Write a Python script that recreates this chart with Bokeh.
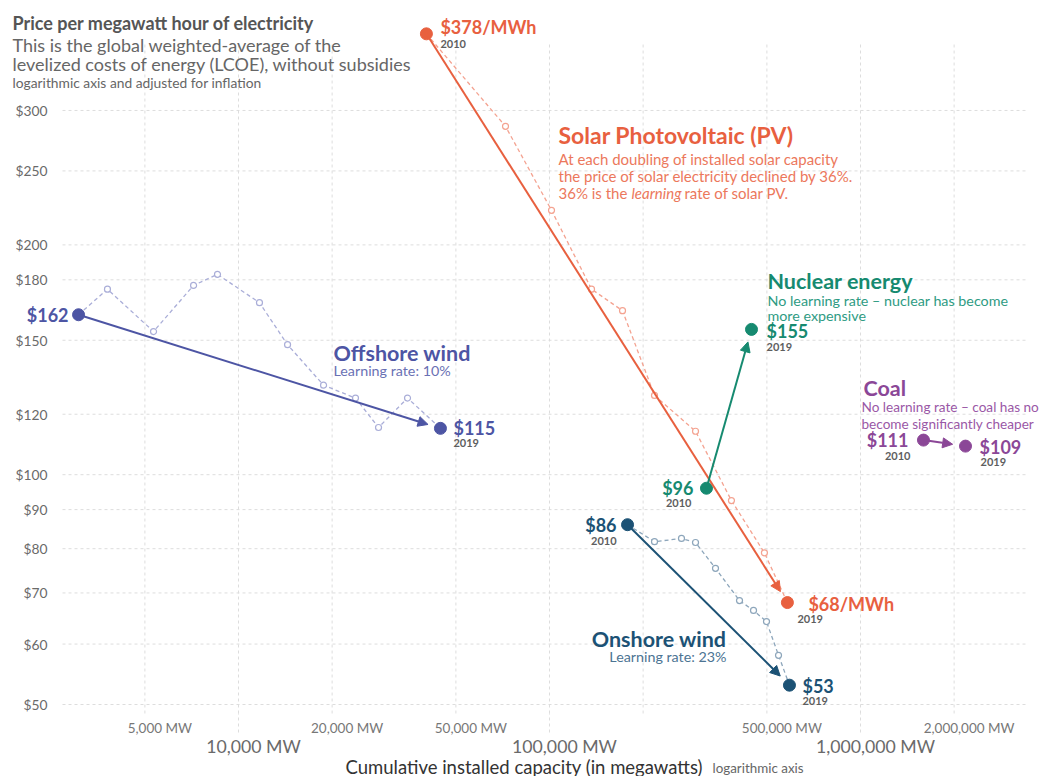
import math
from bokeh.plotting import figure
from bokeh.models import Range1d, Label, Arrow, NormalHead
from bokeh.embed import file_html
from bokeh.resources import INLINE

# ---------------- data ----------------
solar_mw = [40200, 72200, 101500, 136500, 171700, 217600, 294800, 384600, 491000, 582000]
solar_price = [378, 286, 222, 175, 164, 127, 114, 92.5, 79, 68]

offshore_mw = [3060, 3790, 5330, 7170, 8560, 11680, 14380, 18770, 23780, 28200, 34950, 44600]
offshore_price = [162, 175, 154, 177, 183, 168, 148, 131, 126, 115.3, 126, 115]

onshore_mw = [178200, 217600, 265700, 294800, 341800, 408300, 452900, 498600, 545000, 591000]
onshore_price = [86, 81.7, 82.5, 81.5, 75.4, 68.4, 66.4, 64.2, 58.0, 53]

nuclear_mw = [319700, 446200]
nuclear_price = [96, 155]

coal_mw = [1594000, 2176000]
coal_price = [111, 109]

start_year, end_year = "2010", "2019"

y_ticks = [50, 60, 70, 80, 90, 100, 120, 150, 180, 200, 250, 300]
y_tick_labels = ["$50", "$60", "$70", "$80", "$90", "$100", "$120", "$150", "$180", "$200", "$250", "$300"]
x_grid_ticks = [5000, 10000, 20000, 50000, 100000, 200000, 500000, 1000000, 2000000]
x_minor_ticks = [5000, 20000, 50000, 500000, 2000000]
x_minor_labels = ["5,000 MW", "20,000 MW", "50,000 MW", "500,000 MW", "2,000,000 MW"]
x_major_ticks = [10000, 100000, 1000000]
x_major_labels = ["10,000 MW", "100,000 MW", "1,000,000 MW"]

# ---------------- styling ----------------
FONT = "Lato"
C_SOLAR, C_SOLAR_L, C_SOLAR_D = "#E8603F", "#F4A391", "#EC785C"
C_OFF, C_OFF_L, C_OFF_D = "#4D55A4", "#AAAED8", "#6A71B4"
C_ON, C_ON_L, C_ON_D = "#1C5275", "#8DA6BB", "#4C7493"
C_NUC, C_NUC_D = "#168A70", "#2E9B83"
C_COAL, C_COAL_D = "#8B4797", "#9A58A6"
C_YEAR = "#5E5E5E"
GRID_C = "#dddddd"

W, H = 1043, 776
PXX, PXY = 311.0, 763.4   # pixels per decade on x and y


def xpx(px):
    """data x at canvas pixel column px"""
    return 10 ** (5 + (px - 549) / PXX)


def ypx(py):
    """data y at canvas pixel row py"""
    return 10 ** (math.log10(50) + (704 - py) / PXY)


p = figure(width=W, height=H, x_axis_type="log", y_axis_type="log",
           x_range=Range1d(xpx(0), xpx(W)), y_range=Range1d(ypx(H), ypx(0)),
           x_axis_location=None, y_axis_location=None,
           output_backend="svg", toolbar_location=None,
           min_border_left=0, min_border_right=0, min_border_top=0, min_border_bottom=0)
p.outline_line_color = None
p.grid.visible = False

# ---- grid (bounded like the reference) ----
GX0, GX1 = xpx(62), xpx(1027)
GY_TOP, GY_BOT, GY_EXT = ypx(43), ypx(713), ypx(732)
p.segment(x0=[GX0] * len(y_ticks), y0=y_ticks, x1=[GX1] * len(y_ticks), y1=y_ticks,
          line_color=GRID_C, line_dash="3 3", line_width=1)
p.segment(x0=x_grid_ticks, y0=[GY_BOT] * len(x_grid_ticks), x1=x_grid_ticks,
          y1=[GY_TOP] * len(x_grid_ticks), line_color=GRID_C, line_dash="3 3", line_width=1)
p.segment(x0=x_major_ticks, y0=[GY_EXT] * 3, x1=x_major_ticks, y1=[GY_BOT] * 3,
          line_color=GRID_C, line_dash="3 3", line_width=1)


def sy(wy):
    return H - wy


def slabel(wx, wy, text, size, color, style="normal", align="left"):
    p.add_layout(Label(x=wx, y=sy(wy), x_units="screen", y_units="screen", text=text,
                       text_font=FONT, text_font_size=size, text_color=color,
                       text_font_style=style, text_baseline="middle", text_align=align))


def dlabel(x, y, text, dx, dy, size, color, style="bold", align="left"):
    p.add_layout(Label(x=x, y=y, x_offset=dx, y_offset=dy, text=text,
                       text_font=FONT, text_font_size=size, text_color=color,
                       text_font_style=style, text_baseline="middle", text_align=align))


# ---- axis tick labels ----
for t, lab in zip(y_ticks, y_tick_labels):
    p.add_layout(Label(x=47, x_units="screen", y=t, text=lab, text_font=FONT,
                       text_font_size="13.8px", text_color="#6a6a6a",
                       text_baseline="middle", text_align="right"))
for t, lab in zip(x_minor_ticks, x_minor_labels):
    p.add_layout(Label(x=t, y=sy(727), y_units="screen", x_offset=15, text=lab,
                       text_font=FONT, text_font_size="13.5px", text_color="#777777",
                       text_baseline="middle", text_align="center"))
for t, lab in zip(x_major_ticks, x_major_labels):
    p.add_layout(Label(x=t, y=sy(746), y_units="screen", x_offset=15, text=lab,
                       text_font=FONT, text_font_size="17.7px", text_color="#6a6a6a",
                       text_baseline="middle", text_align="center"))


def series(xs, ys, color, light, dashed=True):
    if dashed:
        p.line(xs, ys, line_color=light, line_width=1.3, line_dash="4 3")
        p.scatter(xs[1:-1], ys[1:-1], size=6, marker="circle", fill_color="white",
                  line_color=light, line_width=1.2)
    lx0, ly0 = math.log10(xs[0]), math.log10(ys[0])
    lx1, ly1 = math.log10(xs[-1]), math.log10(ys[-1])
    L = math.hypot((lx1 - lx0) * PXX, (ly1 - ly0) * PXY)
    t = 1 - 13.0 / L
    xe, ye = 10 ** (lx0 + t * (lx1 - lx0)), 10 ** (ly0 + t * (ly1 - ly0))
    p.add_layout(Arrow(end=NormalHead(size=10, line_color=color, fill_color=color),
                       x_start=xs[0], y_start=ys[0], x_end=xe, y_end=ye,
                       line_color=color, line_width=2))
    p.scatter([xs[0], xs[-1]], [ys[0], ys[-1]], size=12, marker="circle",
              fill_color=color, line_color=color)


series(solar_mw, solar_price, C_SOLAR, C_SOLAR_L)
series(offshore_mw, offshore_price, C_OFF, C_OFF_L)
series(onshore_mw, onshore_price, C_ON, C_ON_L)
series(nuclear_mw, nuclear_price, C_NUC, None, dashed=False)
series(coal_mw, coal_price, C_COAL, None, dashed=False)

PS = "18px"
YS = "11px"
# solar
dlabel(solar_mw[0], solar_price[0], f"${solar_price[0]:.0f}/MWh", 14, 7, PS, C_SOLAR)
dlabel(solar_mw[0], solar_price[0], start_year, 14, -10, YS, C_YEAR)
dlabel(solar_mw[-1], solar_price[-1], f"${solar_price[-1]:.0f}/MWh", 21, -1, PS, C_SOLAR)
dlabel(solar_mw[-1], solar_price[-1], end_year, 10, -16, YS, C_YEAR)
# nuclear
dlabel(nuclear_mw[-1], nuclear_price[-1], f"${nuclear_price[-1]:.0f}", 15, -2, PS, C_NUC)
dlabel(nuclear_mw[-1], nuclear_price[-1], end_year, 15, -18, YS, C_YEAR)
dlabel(nuclear_mw[0], nuclear_price[0], f"${nuclear_price[0]:.0f}", -13, 0, PS, C_NUC, align="right")
dlabel(nuclear_mw[0], nuclear_price[0], start_year, -15, -15, YS, C_YEAR, align="right")
# onshore
dlabel(onshore_mw[0], onshore_price[0], f"${onshore_price[0]:.0f}", -11, 0, PS, C_ON, align="right")
dlabel(onshore_mw[0], onshore_price[0], start_year, -11, -16, YS, C_YEAR, align="right")
dlabel(onshore_mw[-1], onshore_price[-1], f"${onshore_price[-1]:.0f}", 13, -1, PS, C_ON)
dlabel(onshore_mw[-1], onshore_price[-1], end_year, 13, -16, YS, C_YEAR)
# offshore
dlabel(offshore_mw[0], offshore_price[0], f"${offshore_price[0]:.0f}", -10, 0, PS, C_OFF, align="right")
dlabel(offshore_mw[-1], offshore_price[-1], f"${offshore_price[-1]:.0f}", 13, 0, PS, C_OFF)
dlabel(offshore_mw[-1], offshore_price[-1], end_year, 13, -15, YS, C_YEAR)
# coal
dlabel(coal_mw[0], coal_price[0], f"${coal_price[0]:.0f}", -15, 0, PS, C_COAL, align="right")
dlabel(coal_mw[0], coal_price[0], start_year, -13, -16, YS, C_YEAR, align="right")
dlabel(coal_mw[-1], coal_price[-1], f"${coal_price[-1]:.0f}", 14, -1, PS, C_COAL)
dlabel(coal_mw[-1], coal_price[-1], end_year, 15, -16, YS, C_YEAR)

# ---- series annotations ----
slabel(558, 134, "Solar Photovoltaic (PV)", "23px", C_SOLAR, style="bold")
slabel(558, 158, "At each doubling of installed solar capacity", "15px", C_SOLAR_D)
slabel(558, 175, "the price of solar electricity declined by 36%.", "15px", C_SOLAR_D)
slabel(558, 192, "36% is the", "15px", C_SOLAR_D)
slabel(631, 192, "learning", "15px", C_SOLAR_D, style="italic")
slabel(684, 192, "rate of solar PV.", "15px", C_SOLAR_D)

slabel(767, 280, "Nuclear energy", "21.5px", C_NUC, style="bold")
slabel(767, 300, "No learning rate – nuclear has become", "14.3px", C_NUC_D)
slabel(767, 315, "more expensive", "14.3px", C_NUC_D)

slabel(863, 387, "Coal", "21.5px", C_COAL, style="bold")
slabel(861, 406, "No learning rate – coal has no", "13.6px", C_COAL_D)
slabel(861, 423, "become significantly cheaper", "13.6px", C_COAL_D)

slabel(333, 352, "Offshore wind", "21.5px", C_OFF, style="bold")
slabel(333, 370, "Learning rate: 10%", "14.3px", C_OFF_D)

slabel(726, 638, "Onshore wind", "21.5px", C_ON, style="bold", align="right")
slabel(726, 656, "Learning rate: 23%", "14.3px", C_ON_D, align="right")

# ---- title block ----
slabel(12, 22, "Price per megawatt hour of electricity", "18px", "#555555", style="bold")
slabel(12, 44, "This is the global weighted-average of the", "18px", "#666666")
slabel(12, 63, "levelized costs of energy (LCOE), without subsidies", "18px", "#666666")
slabel(12, 82, "logarithmic axis and adjusted for inflation", "13.8px", "#666666")

# ---- x-axis title ----
slabel(345, 766, "Cumulative installed capacity (in megawatts)", "18.5px", "#333333")
slabel(712, 767, "logarithmic axis", "13.4px", "#666666")

open("out.html", "w").write(file_html(p, INLINE))
